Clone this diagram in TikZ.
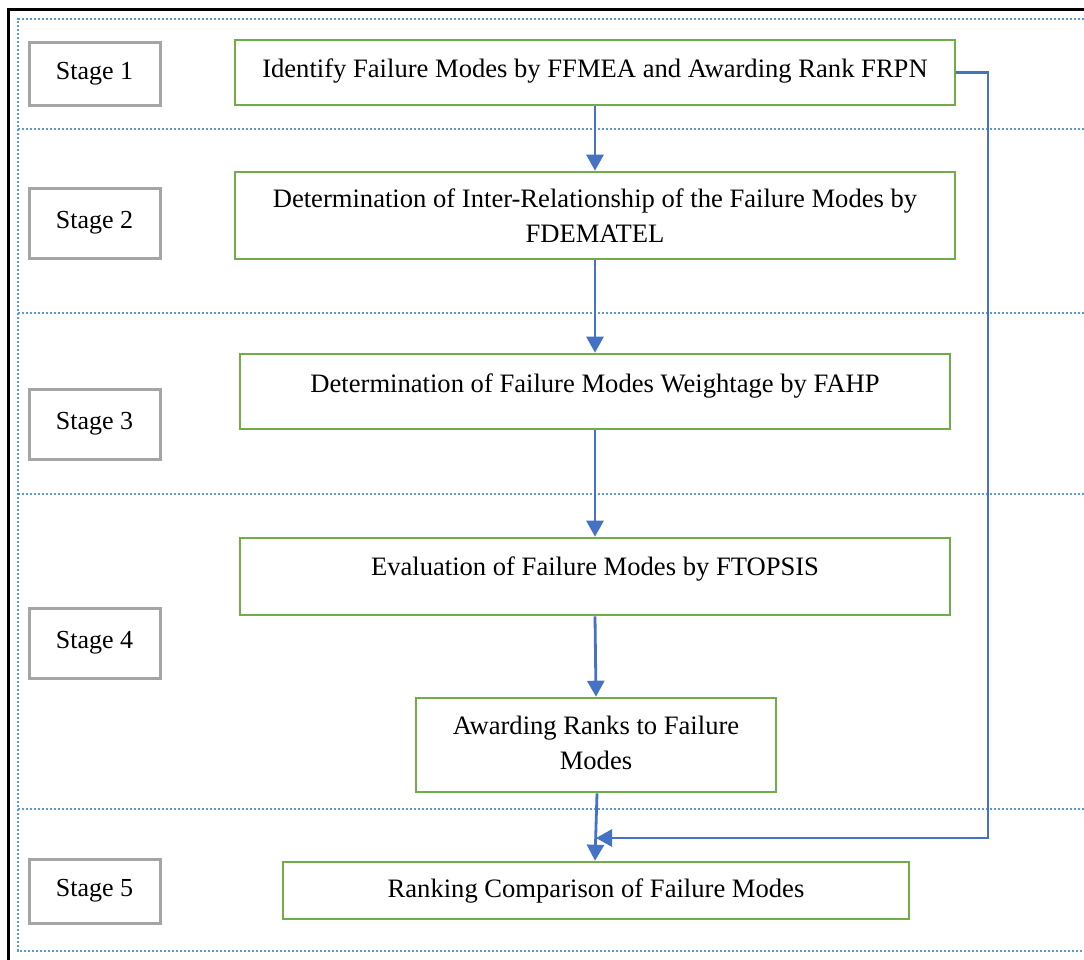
\documentclass[tikz,border=0pt]{standalone}
\usepackage{fontspec}
\setmainfont{Liberation Serif}
\usetikzlibrary{arrows.meta}
\definecolor{gboxc}{HTML}{70AD47}
\definecolor{sboxc}{HTML}{A5A5A5}
\definecolor{arrc}{HTML}{4472C4}
\definecolor{dotc}{HTML}{5B9BD5}
\tikzset{
  gbox/.style={draw=gboxc, line width=2.6pt, inner sep=0pt},
  sbox/.style={draw=sboxc, line width=3pt, inner sep=0pt, minimum width=131pt, font=\fontsize{26}{34}\selectfont},
  txt/.style={inner sep=0pt, align=center, font=\fontsize{26.6}{35}\selectfont},
  flow/.style={draw=arrc, line width=2.8pt, -{Triangle[width=17pt,length=16pt]}},
  sep/.style={draw=dotc, line width=2.5pt, dash pattern=on 2.2pt off 1.8pt}
}
\begin{document}
\begin{tikzpicture}[x=1pt,y=-1pt]
\useasboundingbox (0,0) rectangle (1084,959);
\clip (0,0) rectangle (1084,959);
% frames
\draw[black, line width=3pt] (8,1000) -- (8,9) -- (1100,9);
\draw[sep] (1100,19) -- (18,19) -- (18,951) -- (1100,951);
\foreach \yy in {129,313,494,809} \draw[sep] (18,\yy) -- (1100,\yy);
% stage boxes
\node[sbox, minimum height=63pt] (s1) at (94.5,73.5) {Stage 1};
\node[sbox, minimum height=70pt] (s2) at (94.5,223) {Stage 2};
\node[sbox, minimum height=70pt] (s3) at (94.5,424) {Stage 3};
\node[sbox, minimum height=70pt] (s4) at (94.5,643) {Stage 4};
\node[sbox, minimum height=64pt] (s5) at (94.5,891) {Stage 5};
% process boxes
\node[gbox, minimum width=720pt, minimum height=65pt] (b1) at (595,72.5) {};
\node[txt] (t1) at (595,71.5) {Identify Failure Modes by FFMEA and Awarding Rank FRPN};
\node[gbox, minimum width=720pt, minimum height=87pt] (b2) at (595,215.5) {};
\node[txt] (t2) at (595,216) {Determination of Inter-Relationship of the Failure Modes by\\FDEMATEL};
\node[gbox, minimum width=710pt, minimum height=75pt] (b3) at (595,391.5) {};
\node[txt] (t3) at (595,386) {Determination of Failure Modes Weightage by FAHP};
\node[gbox, minimum width=710pt, minimum height=77pt] (b4) at (595,576.5) {};
\node[txt] (t4) at (595,569) {Evaluation of Failure Modes by FTOPSIS};
\node[gbox, minimum width=360pt, minimum height=94pt] (b5) at (596,745) {};
\node[txt] (t5) at (596,743) {Awarding Ranks to Failure\\Modes};
\node[gbox, minimum width=626pt, minimum height=57pt] (b6) at (596,890.5) {};
\node[txt] (t6) at (596,891) {Ranking Comparison of Failure Modes};
% connectors
\draw[flow] (b1.south) -- (b2.north);
\draw[flow] (b2.south) -- (b3.north);
\draw[flow] (b3.south) -- (b4.north);
\draw[flow] (b4.south) -- (b5.north);
\draw[flow] ([xshift=1pt]b5.south) -- ([xshift=-1pt]b6.north);
\coordinate (fb) at (596,838);
\draw[flow] (b1.east) -- (988,72.5) -- (988,838) -- (fb);
\end{tikzpicture}
\end{document}
